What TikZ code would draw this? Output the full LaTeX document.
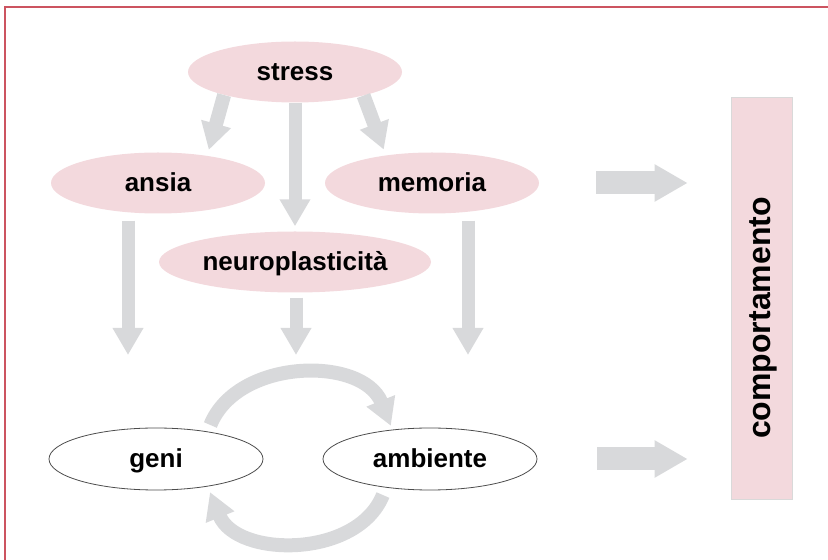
\documentclass[tikz,border=0pt]{standalone}
\usepackage{fontspec}
\setmainfont{Liberation Sans}
\usetikzlibrary{shapes.geometric,arrows.meta}
\definecolor{rosa}{RGB}{243,217,221}
\definecolor{grigio}{RGB}{216,217,219}
\definecolor{cornice}{RGB}{204,84,96}

\begin{document}
\begin{tikzpicture}[x=1pt, y=1pt,
        blob/.style={ellipse, fill=rosa, minimum width=214pt, minimum height=61pt, inner sep=0pt, text height=19pt, text depth=1.5pt, font=\fontsize{26}{30}\selectfont\bfseries},
        plain/.style={ellipse, draw=black!70, line width=0.8pt, fill=white, minimum width=214pt, minimum height=62pt, inner sep=0pt, text height=19pt, text depth=1.5pt, font=\fontsize{26}{30}\selectfont\bfseries},
        col/.style={rectangle, draw=black!15, line width=0.6pt, fill=rosa, minimum width=61pt, minimum height=402pt, inner sep=0pt},
        fat/.style={-{Triangle[width=29pt,length=27pt]}, line width=14pt, grigio},
        wide/.style={-{Triangle[width=35pt,length=33pt]}, line width=23pt, grigio}
    ]
    \useasboundingbox (0,0) rectangle (828,560);
    \draw[cornice, line width=2pt] (5,0) |- (828,553);

    \node[blob] (stress) at (295,488) {stress};
    \node[blob] (ansia) at (158,377) {ansia};
    \node[blob] (memoria) at (432,377) {memoria};
    \node[blob, minimum width=272pt] (neuro) at (295,298) {neuroplasticità};
    \node[plain] (geni) at (156,101) {geni};
    \node[plain] (ambiente) at (430,101) {ambiente};
    \node[col] (comp) at (761.5,262) {};
    \node[rotate=90, inner sep=0pt, font=\fontsize{32}{36}\selectfont\bfseries] (compt) at ([xshift=2pt, yshift=-20pt]comp.center) {comportamento};

    \coordinate (tA) at (128,205);
    \coordinate (tN) at (296,205);
    \coordinate (tM) at (468,205);

    \draw[fat, line width=13pt, shorten >=5pt] (stress) -- (neuro);
    \draw[fat, shorten >=6pt] (stress.198) -- (ansia.29);
    \draw[fat, shorten >=6pt] (stress.341) -- (memoria.149);
    \draw[fat, line width=13pt, shorten <=7pt] (ansia.south -| tA) -- (tA);
    \draw[fat, line width=13pt, shorten <=5pt] (neuro.south -| tN) -- (tN);
    \draw[fat, line width=13pt, shorten <=7pt] (memoria.south -| tM) -- (tM);
    \draw[wide, shorten <=57pt, shorten >=43pt] (memoria) -- (comp.west |- memoria);
    \draw[wide, shorten <=60pt, shorten >=43pt] (ambiente) -- (comp.west |- ambiente);
    \draw[fat, shorten <=7pt, shorten >=4pt] (geni.28) to[out=68, in=112, looseness=1.1] (ambiente.142);
    \draw[fat, shorten <=8pt, shorten >=6pt] (ambiente.213) to[out=-112, in=-68, looseness=1.1] (geni.332);
\end{tikzpicture}
\end{document}
